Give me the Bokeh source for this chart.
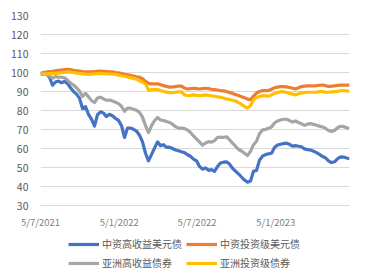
import pandas as pd
from bokeh.plotting import figure
from bokeh.layouts import column
from bokeh.models import Legend, LegendItem, FixedTicker, Range1d
from bokeh.embed import file_html
from bokeh.resources import INLINE

# ---- data (weekly readings, index base = 100) ----
dates = pd.date_range("2021-07-05", periods=104, freq="7D")

cn_hy = [99.0, 99.3, 99.3, 97.5, 93.3, 95.0, 95.5, 94.6, 95.3, 94.2,
         92.0, 90.0, 88.6, 86.5, 81.0, 82.0, 78.0, 75.5, 71.8, 77.8,
         79.3, 78.6, 76.8, 78.0, 77.2, 75.8, 74.8, 72.0, 65.8, 70.8,
         70.8, 70.1, 69.2, 67.0, 63.5, 57.5, 53.5, 56.8, 60.2, 63.5,
         61.5, 62.0, 60.6, 60.7, 60.0, 59.2, 58.8, 58.3, 57.8, 56.7,
         55.9, 54.4, 53.5, 50.6, 49.1, 49.8, 48.5, 48.9, 48.0, 50.5,
         52.4, 52.8, 53.0, 51.8, 49.6, 48.1, 46.6, 45.0, 43.4, 42.3,
         42.9, 48.0, 48.5, 53.8, 56.0, 56.8, 57.2, 57.5, 60.5, 61.8,
         62.2, 62.6, 62.8, 62.2, 61.2, 61.5, 61.2, 60.9, 59.8, 59.4,
         59.2, 58.6, 57.8, 56.9, 55.8, 55.1, 53.5, 52.6, 53.0, 54.6,
         55.6, 55.5, 55.0, 54.6]

cn_ig = [99.6, 99.9, 100.2, 100.5, 100.6, 100.9, 101.1, 101.3, 101.5, 101.7,
         101.5, 101.1, 100.9, 100.7, 100.5, 100.4, 100.3, 100.4, 100.5, 100.6,
         100.7, 100.6, 100.5, 100.4, 100.3, 100.0, 99.8, 99.5, 99.1, 98.8,
         98.5, 98.1, 97.7, 97.5, 96.7, 95.3, 94.3, 94.0, 94.0, 94.0,
         93.6, 93.1, 92.7, 92.3, 92.4, 92.6, 92.9, 92.8, 91.8, 91.3,
         91.5, 91.7, 91.5, 91.3, 91.5, 91.7, 91.5, 91.2, 91.0, 90.8,
         90.5, 90.3, 90.0, 89.5, 89.0, 88.4, 87.9, 87.3, 86.7, 86.0,
         85.7, 87.6, 89.2, 90.0, 90.5, 90.5, 90.5, 91.2, 92.0, 92.3,
         92.6, 92.6, 92.4, 92.1, 91.7, 91.3, 92.0, 92.6, 92.8, 93.0,
         93.0, 93.0, 93.1, 93.3, 93.4, 93.1, 92.7, 92.8, 93.0, 93.2,
         93.4, 93.4, 93.4, 93.4]

asia_hy = [99.4, 99.6, 99.3, 98.3, 97.0, 97.8, 97.5, 97.5, 97.2, 96.0,
           94.5, 93.4, 92.0, 90.2, 87.4, 89.0, 87.2, 85.2, 84.2, 86.6,
           87.0, 86.1, 85.4, 85.5, 85.0, 84.3, 83.6, 82.2, 79.6, 81.2,
           81.2, 80.7, 80.1, 79.0, 76.5, 72.0, 68.4, 72.0, 74.6, 76.3,
           75.0, 74.7, 74.2, 73.7, 72.8, 71.5, 70.7, 70.7, 70.5, 69.7,
           68.4, 66.6, 65.0, 63.5, 61.7, 62.9, 63.6, 63.3, 64.2, 65.8,
           66.0, 65.8, 66.2, 64.6, 62.8, 61.2, 59.5, 58.7, 57.5, 56.3,
           58.5, 62.0, 63.8, 67.8, 69.8, 70.1, 70.6, 71.3, 73.4, 74.5,
           75.0, 75.4, 75.4, 74.7, 73.9, 74.5, 73.7, 73.0, 72.2, 72.8,
           73.1, 72.7, 72.2, 71.8, 71.4, 70.7, 69.5, 69.0, 69.5, 70.9,
           71.7, 71.6, 70.9, 70.7]

asia_ig = [99.2, 99.2, 99.3, 99.4, 99.5, 99.5, 99.7, 99.9, 100.1, 100.3,
           100.2, 100.0, 99.7, 99.5, 99.3, 99.1, 99.0, 99.1, 99.2, 99.4,
           99.5, 99.4, 99.3, 99.2, 99.2, 99.0, 98.6, 98.3, 98.0, 97.6,
           97.3, 96.9, 96.5, 95.6, 94.8, 94.0, 90.7, 91.0, 91.0, 91.0,
           90.5, 90.0, 89.7, 89.4, 89.4, 89.6, 89.8, 89.8, 88.2, 87.9,
           88.0, 88.2, 88.0, 87.8, 88.0, 88.2, 88.0, 87.7, 87.5, 87.2,
           87.0, 86.6, 86.1, 85.8, 85.4, 85.0, 84.2, 83.2, 82.2, 81.3,
           82.5, 85.6, 86.8, 87.4, 87.8, 87.7, 87.5, 88.2, 89.0, 89.5,
           89.9, 89.9, 89.5, 89.0, 88.6, 88.2, 88.8, 89.2, 89.4, 89.6,
           89.6, 89.6, 89.7, 90.0, 90.0, 89.7, 89.6, 89.8, 90.0, 90.1,
           90.4, 90.5, 90.3, 90.2]

series_names = ["中资高收益美元债", "中资投资级美元债", "亚洲高收益债券", "亚洲投资级债券"]
series_colors = ["#4472C4", "#ED7D31", "#A5A5A5", "#FFC000"]

tick_dates = ["2021-07-05", "2022-01-05", "2022-07-05", "2023-01-05"]
tick_labels = ["5/7/2021", "5/1/2022", "5/7/2022", "5/1/2023"]
y_ticks = [30, 40, 50, 60, 70, 80, 90, 100, 110, 120, 130]

FONT = "Noto Sans CJK SC"
LW = 3.2

# ---------------- main chart ----------------
p = figure(width=366, height=231, output_backend="svg", toolbar_location=None,
           x_axis_type="datetime",
           x_range=Range1d(dates[0], dates[-1]), y_range=Range1d(30, 130),
           min_border_left=40, min_border_right=17, min_border_top=15,
           min_border_bottom=24)
p.outline_line_color = None
p.background_fill_color = "white"
p.border_fill_color = "white"

for vals, col in zip([cn_hy, cn_ig, asia_hy, asia_ig], series_colors):
    p.line(dates, vals, line_color=col, line_width=LW, line_join="round")

p.yaxis.ticker = FixedTicker(ticks=y_ticks)
p.yaxis.axis_line_color = None
p.yaxis.major_tick_line_color = None
p.yaxis.minor_tick_line_color = None
p.yaxis.major_tick_out = 0
p.yaxis.major_tick_in = 0
p.yaxis.major_label_standoff = 12
p.yaxis.major_label_text_font = FONT
p.yaxis.major_label_text_font_size = "10.5px"
p.yaxis.major_label_text_color = "#595959"

tick_ms = [int(pd.Timestamp(d).value // 10**6) for d in tick_dates]
p.xaxis.ticker = FixedTicker(ticks=tick_ms)
p.xaxis.major_label_overrides = {t: l for t, l in zip(tick_ms, tick_labels)}
p.xaxis.axis_line_color = "#D9D9D9"
p.xaxis.axis_line_width = 1
p.xaxis.major_tick_line_color = None
p.xaxis.minor_tick_line_color = None
p.xaxis.major_tick_out = 0
p.xaxis.major_tick_in = 0
p.xaxis.major_label_standoff = 9
p.xaxis.major_label_text_font = FONT
p.xaxis.major_label_text_font_size = "9.5px"
p.xaxis.major_label_text_color = "#7F7F7F"

p.xgrid.grid_line_color = None
p.ygrid.grid_line_color = "#D9D9D9"
p.ygrid.grid_line_width = 1

# ---------------- legend strip ----------------
lg = figure(width=366, height=49, output_backend="svg", toolbar_location=None,
            x_range=Range1d(0, 1), y_range=Range1d(0, 1),
            x_axis_location=None, y_axis_location=None,
            min_border_left=0, min_border_right=0, min_border_top=0, min_border_bottom=0)
lg.outline_line_color = None
lg.xgrid.grid_line_color = None
lg.ygrid.grid_line_color = None
# legend-only renderers, their points lie outside the visible range
dummies = [lg.line(x=[5, 6], y=[5, 6], line_color=c, line_width=LW) for c in series_colors]

order = [0, 2, 1, 3]  # legend fills column by column
items = [LegendItem(label=series_names[k], renderers=[dummies[k]]) for k in order]
legend = Legend(items=items, ncols=2, location=(28, 10),
                glyph_width=31, glyph_height=14, label_standoff=3,
                spacing=4, padding=0, margin=0,
                label_text_font=FONT, label_text_font_size="10px",
                label_text_color="#595959", label_height=14,
                border_line_color=None, background_fill_alpha=0)
lg.add_layout(legend, "center")

layout = column(p, lg, spacing=0)
open("out.html", "w").write(file_html(layout, INLINE))
